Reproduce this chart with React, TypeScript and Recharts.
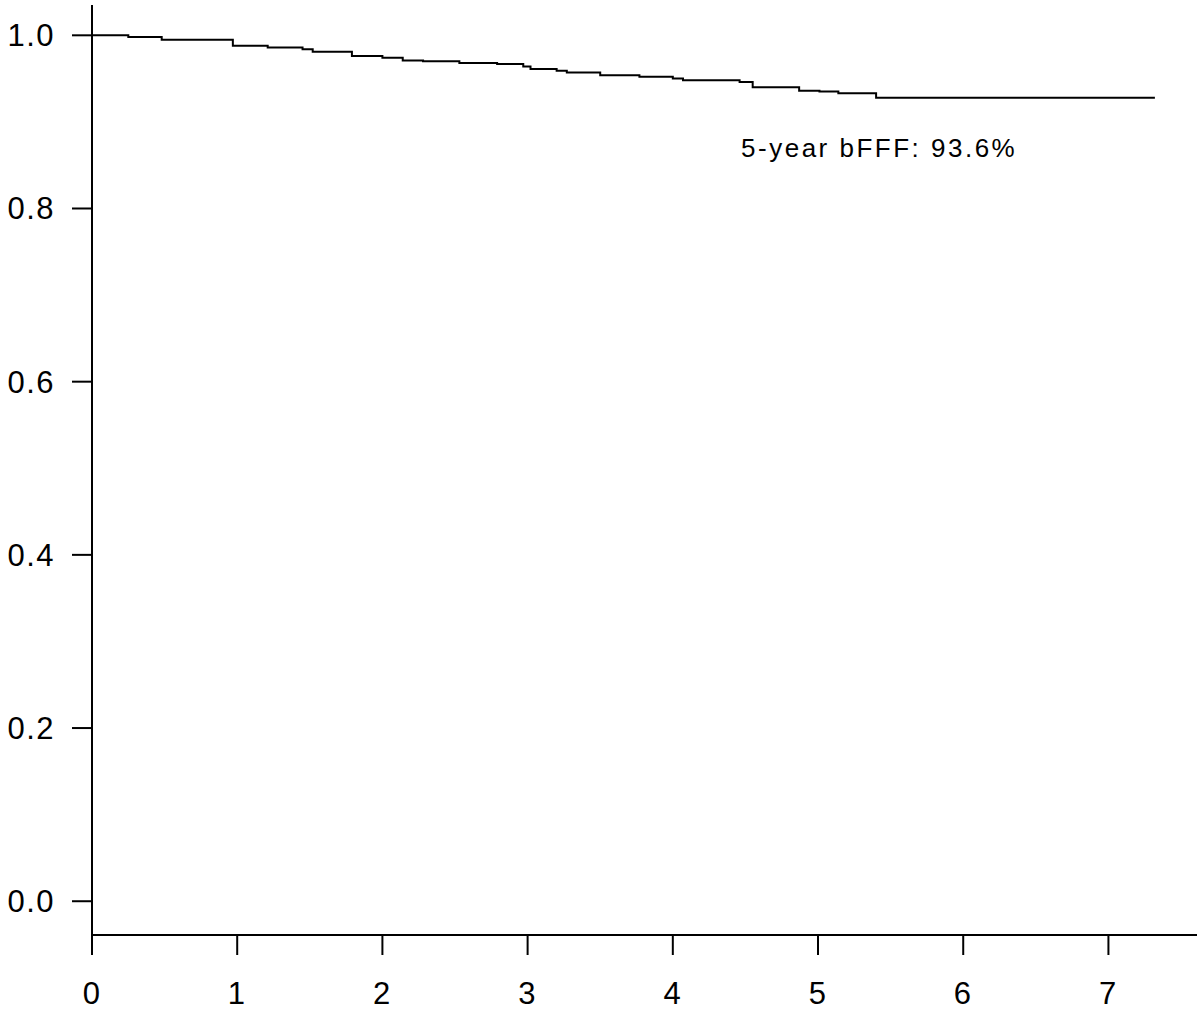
import { Line, LineChart, ReferenceDot, XAxis, YAxis } from "recharts";

const years = [0, 0.25, 0.48, 0.97, 1.21, 1.45, 1.52, 1.79, 2.0, 2.14, 2.28, 2.53, 2.79, 2.97, 3.02, 3.2, 3.27, 3.5, 3.77, 4.0, 4.07, 4.46, 4.55, 4.87, 5.01, 5.14, 5.4, 7.32];
const survival = [1.0, 0.998, 0.995, 0.988, 0.986, 0.984, 0.981, 0.976, 0.974, 0.971, 0.97, 0.968, 0.967, 0.964, 0.961, 0.959, 0.957, 0.954, 0.952, 0.95, 0.948, 0.946, 0.94, 0.936, 0.935, 0.933, 0.928, 0.928];
const xTicks = [0, 1, 2, 3, 4, 5, 6, 7];
const yTicks = [0, 0.2, 0.4, 0.6, 0.8, 1.0];
const note = "5-year bFFF: 93.6%";

const data = years.map((t, i) => ({ t, s: survival[i] }));

const tickStyle = { fontSize: 31, fill: "#000", fontFamily: "Liberation Sans, Arial, sans-serif", letterSpacing: 1.5 };
const axisStroke = { stroke: "#000", strokeWidth: 2 };

function NoteLabel({ viewBox }: any) {
  return (
    <text x={viewBox.x} y={viewBox.y} fontSize={26} letterSpacing={2.5} fill="#000" fontFamily="Liberation Sans, Arial, sans-serif">
      {note}
    </text>
  );
}

export default function App() {
  return (
    <div style={{ position: "absolute", left: 0, top: 0, background: "#fff" }}>
      <LineChart width={1203} height={1015} data={data} margin={{ top: 5, right: 6, bottom: 0, left: 0 }}>
        <XAxis
          dataKey="t"
          type="number"
          domain={[0, 7.61]}
          allowDataOverflow
          ticks={xTicks}
          height={80}
          tickSize={20}
          tickMargin={27}
          axisLine={axisStroke}
          tickLine={axisStroke}
          tick={tickStyle}
        />
        <YAxis
          type="number"
          domain={[-0.039, 1.035]}
          allowDataOverflow
          ticks={yTicks}
          width={92}
          tickSize={20}
          tickMargin={17}
          axisLine={axisStroke}
          tickLine={axisStroke}
          tick={tickStyle}
          tickFormatter={(v: number) => v.toFixed(1)}
        />
        <Line type="stepAfter" dataKey="s" stroke="#000" strokeWidth={2} dot={false} isAnimationActive={false} />
        <ReferenceDot x={4.47} y={0.86} r={0} fill="none" stroke="none" label={<NoteLabel />} />
      </LineChart>
    </div>
  );
}
